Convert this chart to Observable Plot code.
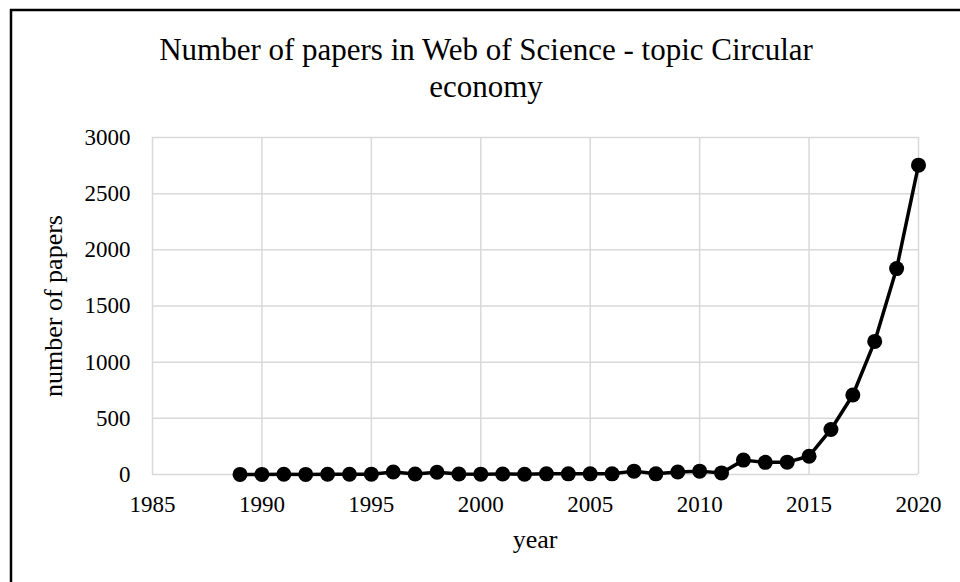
<!DOCTYPE html>
<html>
<head>
<meta charset="utf-8">
<script src="https://cdn.jsdelivr.net/npm/d3@7"></script>
<script src="https://cdn.jsdelivr.net/npm/@observablehq/plot@0.6"></script>
<style>
  html, body { margin: 0; padding: 0; background: white; }
  #chart svg { display: block; }
</style>
</head>
<body>
<div id="chart"></div>
<script>
const titleLines = ["Number of papers in Web of Science - topic Circular", "economy"];
const xLabel = "year";
const yLabel = "number of papers";

const years = [1989, 1990, 1991, 1992, 1993, 1994, 1995, 1996, 1997, 1998, 1999, 2000,
               2001, 2002, 2003, 2004, 2005, 2006, 2007, 2008, 2009, 2010, 2011, 2012,
               2013, 2014, 2015, 2016, 2017, 2018, 2019, 2020];
const papers = [1, 1, 2, 1, 2, 2, 3, 22, 4, 20, 4, 3,
                4, 2, 6, 6, 6, 6, 30, 6, 22, 30, 14, 128,
                108, 110, 163, 401, 708, 1185, 1833, 2754];

const xTicks = [1985, 1990, 1995, 2000, 2005, 2010, 2015, 2020];
const yTicks = [0, 500, 1000, 1500, 2000, 2500, 3000];

const data = years.map((y, i) => ({year: y, count: papers[i]}));

const font = "'Liberation Serif', 'Times New Roman', serif";

const chart = Plot.plot({
  width: 960,
  height: 582,
  marginLeft: 152,
  marginRight: 42,
  marginTop: 137,
  marginBottom: 108,
  style: {fontFamily: font, fontSize: "23px", color: "black", background: "white"},
  x: {domain: [1985, 2020], label: null},
  y: {domain: [0, 3000], label: null},
  marks: [
    Plot.gridX(xTicks, {stroke: "#d9d9d9", strokeOpacity: 1, strokeWidth: 1.5}),
    Plot.gridY(yTicks, {stroke: "#d9d9d9", strokeOpacity: 1, strokeWidth: 1.5}),
    Plot.axisX({ticks: xTicks, tickSize: 0, tickPadding: 21, fontSize: 23, tickFormat: d => String(d), label: null}),
    Plot.axisY({ticks: yTicks, tickSize: 0, tickPadding: 22, fontSize: 23, tickFormat: d => String(d), label: null}),
    Plot.line(data, {x: "year", y: "count", stroke: "black", strokeWidth: 3.5}),
    Plot.dot(data, {x: "year", y: "count", r: 7.5, fill: "black", stroke: "none"})
  ]
});

document.getElementById("chart").appendChild(chart);

const svg = d3.select(chart);

// border (top and left edges of the surrounding frame)
svg.append("line").attr("x1", 10).attr("x2", 960).attr("y1", 10).attr("y2", 10)
  .attr("stroke", "black").attr("stroke-width", 2.5);
svg.append("line").attr("x1", 11).attr("x2", 11).attr("y1", 9).attr("y2", 582)
  .attr("stroke", "black").attr("stroke-width", 2.5);

// title
const title = svg.append("text")
  .attr("text-anchor", "middle")
  .attr("font-family", font)
  .attr("font-size", 31)
  .attr("fill", "black");
title.selectAll("tspan").data(titleLines).join("tspan")
  .attr("x", 486)
  .attr("y", (d, i) => 60 + i * 37)
  .text(d => d);

// x axis label
svg.append("text")
  .attr("x", 535).attr("y", 548)
  .attr("text-anchor", "middle")
  .attr("font-family", font)
  .attr("font-size", 26)
  .attr("fill", "black")
  .text(xLabel);

// y axis label
svg.append("text")
  .attr("transform", "translate(62,306) rotate(-90)")
  .attr("text-anchor", "middle")
  .attr("font-family", font)
  .attr("font-size", 26)
  .attr("fill", "black")
  .text(yLabel);
</script>
</body>
</html>
